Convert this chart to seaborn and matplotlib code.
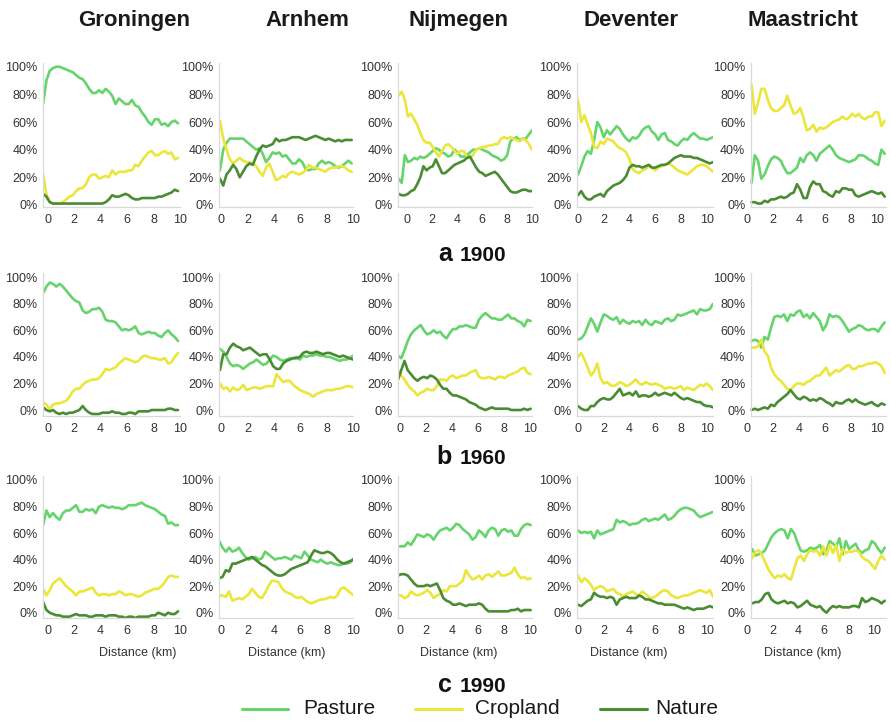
import numpy as np
import pandas as pd
import matplotlib
matplotlib.use("Agg")
import matplotlib.pyplot as plt
from matplotlib.lines import Line2D
import seaborn as sns

# ---------------------------------------------------------------------------
# Land-use shares (%) along transects from the city centre outwards
# ---------------------------------------------------------------------------
cities = ["Groningen", "Arnhem", "Nijmegen", "Deventer", "Maastricht"]
years = ["1900", "1960", "1990"]
panel_letters = ["a", "b", "c"]
land_uses = ["Pasture", "Cropland", "Nature"]

# 1900
groningen_1900_pasture = [73, 90, 97, 99, 100, 100, 99, 98, 97, 96, 94, 92, 91, 88, 84, 81, 81, 83, 81, 84, 82, 79, 73, 77, 75, 73, 73, 76, 72, 71, 67, 64, 60, 58, 62, 62, 58, 59, 57, 60, 61, 59]
groningen_1900_cropland = [22, 8, 2, 1, 1, 1, 2, 4, 6, 7, 10, 12, 12, 15, 20, 22, 22, 19, 20, 21, 20, 25, 22, 24, 24, 24, 25, 25, 29, 28, 32, 35, 38, 39, 36, 36, 38, 39, 37, 38, 33, 34]
groningen_1900_nature = [8, 6, 2, 1, 1, 1, 1, 1, 1, 1, 1, 1, 1, 1, 1, 1, 1, 1, 1, 2, 4, 7, 6, 6, 7, 8, 7, 5, 4, 4, 5, 5, 5, 5, 5, 6, 6, 7, 8, 9, 11, 10]

arnhem_1900_pasture = [25, 40, 45, 48, 48, 48, 48, 48, 46, 44, 42, 40, 41, 37, 31, 34, 38, 37, 38, 35, 36, 33, 30, 30, 33, 31, 26, 25, 26, 26, 30, 32, 30, 31, 30, 28, 27, 28, 30, 32, 30]
arnhem_1900_cropland = [61, 48, 40, 33, 30, 32, 34, 32, 31, 31, 30, 28, 24, 21, 27, 30, 24, 18, 19, 21, 20, 23, 24, 23, 22, 23, 25, 29, 27, 27, 26, 25, 24, 26, 27, 27, 28, 28, 27, 25, 24]
arnhem_1900_nature = [19, 14, 22, 25, 29, 26, 20, 24, 28, 30, 29, 35, 40, 43, 42, 43, 44, 48, 46, 47, 47, 48, 49, 49, 49, 48, 47, 48, 49, 50, 49, 48, 47, 48, 47, 46, 47, 46, 47, 47, 47]

nijmegen_1900_pasture = [19, 16, 36, 31, 32, 34, 33, 35, 34, 35, 37, 39, 41, 40, 38, 37, 35, 36, 40, 38, 35, 35, 36, 38, 40, 40, 41, 40, 39, 38, 36, 35, 34, 32, 33, 36, 46, 48, 49, 47, 48, 48, 51, 54]
nijmegen_1900_cropland = [79, 82, 76, 64, 66, 62, 58, 52, 47, 45, 45, 42, 38, 35, 39, 43, 44, 42, 39, 37, 39, 39, 35, 34, 36, 40, 41, 42, 42, 43, 43, 44, 44, 48, 49, 48, 49, 48, 47, 46, 48, 47, 44, 40]
nijmegen_1900_nature = [8, 7, 7, 8, 10, 11, 15, 20, 28, 25, 27, 28, 33, 28, 23, 23, 25, 27, 29, 30, 31, 32, 34, 35, 31, 27, 24, 23, 21, 22, 23, 24, 22, 19, 16, 13, 10, 9, 9, 10, 11, 11, 10, 10]

deventer_1900_pasture = [22, 28, 35, 39, 37, 47, 60, 56, 49, 54, 51, 54, 57, 55, 51, 48, 46, 49, 48, 50, 54, 56, 57, 53, 51, 47, 51, 52, 47, 46, 44, 43, 46, 48, 47, 50, 52, 50, 48, 48, 47, 48, 49]
deventer_1900_cropland = [76, 60, 65, 58, 52, 42, 41, 46, 44, 48, 47, 46, 43, 41, 40, 38, 33, 26, 24, 23, 25, 26, 28, 27, 25, 27, 28, 29, 30, 29, 27, 25, 24, 23, 22, 24, 26, 28, 29, 29, 28, 26, 24]
deventer_1900_nature = [7, 10, 6, 4, 4, 6, 7, 8, 6, 10, 12, 14, 15, 16, 18, 21, 27, 29, 28, 28, 27, 28, 29, 27, 27, 28, 29, 29, 30, 32, 34, 35, 36, 35, 35, 35, 34, 34, 33, 32, 31, 30, 31]

maastricht_1900_pasture = [16, 36, 32, 19, 22, 28, 33, 35, 34, 32, 27, 23, 23, 25, 27, 34, 31, 36, 38, 36, 32, 37, 39, 41, 43, 40, 36, 34, 33, 32, 31, 32, 33, 36, 36, 35, 33, 32, 30, 29, 40, 37]
maastricht_1900_cropland = [87, 66, 74, 84, 84, 76, 70, 68, 68, 70, 72, 79, 72, 66, 67, 70, 63, 54, 55, 58, 53, 56, 55, 56, 58, 60, 61, 62, 64, 62, 63, 66, 64, 66, 63, 62, 64, 64, 67, 67, 57, 61]
maastricht_1900_nature = [2, 2, 1, 1, 3, 2, 4, 4, 5, 6, 5, 6, 8, 9, 15, 11, 5, 5, 13, 17, 15, 15, 10, 9, 7, 6, 10, 9, 12, 12, 11, 11, 7, 6, 7, 8, 9, 10, 9, 8, 9, 6]

# 1960
groningen_1960_pasture = [88, 93, 96, 95, 93, 95, 93, 90, 87, 84, 82, 81, 75, 73, 74, 76, 76, 77, 74, 68, 67, 67, 66, 63, 60, 61, 60, 61, 63, 58, 57, 58, 59, 58, 58, 56, 55, 58, 60, 57, 55, 52]
groningen_1960_cropland = [6, 4, 1, 4, 5, 5, 6, 7, 10, 14, 16, 16, 19, 21, 22, 23, 23, 24, 27, 31, 30, 31, 32, 35, 37, 39, 38, 37, 36, 37, 40, 41, 40, 39, 39, 38, 38, 39, 35, 36, 40, 43]
groningen_1960_nature = [2, 0, -1, 0, -2, -3, -2, -3, -2, -2, -1, 0, 3, 0, -2, -3, -3, -3, -2, -2, -2, -1, -2, -2, -3, -3, -2, -2, -3, -1, -1, -1, -1, 0, 0, 0, 0, 0, 1, 1, 0, 0]

arnhem_1960_pasture = [46, 44, 40, 35, 33, 34, 33, 31, 33, 35, 36, 38, 36, 34, 35, 38, 41, 40, 38, 37, 38, 39, 39, 40, 38, 41, 40, 41, 41, 42, 41, 41, 40, 40, 39, 38, 37, 38, 38, 39, 41]
arnhem_1960_cropland = [20, 16, 17, 14, 17, 15, 16, 19, 15, 16, 17, 17, 16, 17, 18, 18, 18, 27, 24, 21, 22, 22, 19, 17, 15, 14, 13, 12, 10, 12, 13, 14, 15, 15, 15, 16, 16, 17, 18, 18, 17]
arnhem_1960_nature = [30, 42, 42, 47, 50, 48, 47, 45, 46, 47, 45, 43, 41, 42, 42, 38, 33, 31, 31, 35, 37, 38, 39, 39, 40, 43, 44, 43, 43, 44, 43, 42, 43, 43, 42, 41, 40, 41, 40, 39, 38]

nijmegen_1960_pasture = [41, 39, 45, 52, 57, 60, 62, 64, 60, 57, 58, 60, 58, 59, 56, 54, 58, 61, 61, 63, 63, 64, 63, 62, 62, 68, 71, 73, 71, 69, 69, 68, 68, 70, 72, 69, 69, 67, 66, 63, 68, 67]
nijmegen_1960_cropland = [30, 26, 23, 19, 16, 14, 11, 13, 14, 16, 15, 15, 18, 23, 23, 22, 25, 26, 24, 25, 26, 26, 28, 29, 30, 25, 24, 24, 25, 24, 23, 25, 25, 24, 26, 27, 28, 29, 31, 32, 28, 27]
nijmegen_1960_nature = [23, 30, 37, 30, 27, 24, 22, 24, 25, 24, 26, 25, 23, 19, 16, 16, 13, 11, 11, 10, 9, 8, 6, 5, 4, 2, 1, 0, 1, 2, 1, 1, 1, 1, 1, 0, 0, 0, 0, 1, 0, 1]

deventer_1960_pasture = [53, 54, 57, 63, 69, 65, 59, 66, 72, 71, 69, 68, 70, 65, 68, 66, 65, 67, 66, 67, 64, 68, 65, 64, 67, 66, 65, 68, 69, 67, 68, 72, 71, 72, 73, 74, 75, 72, 76, 75, 75, 76, 80]
deventer_1960_cropland = [40, 43, 38, 32, 26, 29, 35, 24, 20, 21, 19, 18, 19, 21, 20, 18, 19, 21, 23, 20, 19, 21, 20, 19, 20, 19, 18, 16, 17, 17, 16, 17, 18, 15, 17, 16, 15, 17, 19, 18, 20, 18, 15]
deventer_1960_nature = [3, 1, 0, 0, 3, 3, 6, 8, 9, 8, 8, 10, 13, 16, 11, 12, 13, 11, 14, 10, 11, 11, 10, 11, 13, 11, 12, 13, 12, 11, 13, 11, 9, 8, 9, 8, 7, 6, 6, 4, 3, 3, 2]

maastricht_1960_pasture = [52, 53, 52, 47, 55, 53, 62, 70, 71, 70, 72, 67, 72, 71, 74, 75, 70, 72, 69, 73, 70, 67, 60, 64, 72, 70, 71, 70, 67, 63, 59, 61, 62, 64, 63, 61, 60, 61, 61, 59, 63, 66]
maastricht_1960_cropland = [47, 47, 48, 53, 44, 41, 32, 27, 24, 22, 19, 16, 15, 18, 20, 20, 19, 21, 22, 24, 26, 26, 29, 32, 26, 28, 30, 29, 31, 33, 34, 31, 31, 33, 33, 34, 35, 35, 36, 35, 33, 28]
maastricht_1960_nature = [0, 1, 0, 1, 2, 1, 4, 3, 6, 8, 10, 12, 15, 12, 9, 8, 10, 9, 7, 8, 7, 9, 8, 6, 5, 3, 6, 5, 5, 7, 8, 6, 8, 6, 5, 4, 5, 6, 4, 3, 5, 4]

# 1990
groningen_1990_pasture = [66, 77, 72, 75, 72, 70, 75, 77, 77, 79, 81, 76, 76, 78, 77, 78, 75, 80, 81, 80, 79, 80, 79, 79, 78, 79, 81, 81, 81, 82, 83, 81, 80, 79, 78, 76, 74, 73, 67, 68, 66, 66]
groningen_1990_cropland = [18, 13, 17, 22, 24, 26, 23, 20, 18, 16, 13, 16, 16, 17, 18, 19, 15, 13, 14, 14, 13, 14, 14, 16, 15, 13, 14, 14, 13, 12, 13, 15, 16, 17, 18, 18, 20, 23, 27, 28, 27, 27]
groningen_1990_nature = [8, 2, 0, -1, -2, -2, -3, -3, -3, -2, -1, -2, -2, -2, -3, -3, -2, -2, -2, -3, -2, -2, -2, -3, -3, -4, -3, -3, -4, -3, -3, -3, -3, -2, -2, 0, -1, -2, 0, -1, -1, 1]

arnhem_1990_pasture = [54, 49, 46, 49, 46, 47, 49, 45, 42, 40, 41, 42, 40, 41, 46, 44, 42, 40, 41, 41, 42, 41, 40, 43, 42, 41, 46, 43, 40, 39, 38, 40, 38, 37, 38, 37, 36, 36, 37, 37, 38, 41]
arnhem_1990_cropland = [13, 13, 12, 16, 9, 10, 11, 10, 12, 14, 18, 15, 12, 11, 15, 20, 24, 24, 23, 19, 16, 15, 14, 12, 11, 12, 10, 8, 7, 8, 9, 10, 10, 11, 12, 11, 13, 18, 19, 17, 15, 13]
arnhem_1990_nature = [26, 27, 32, 31, 37, 37, 38, 39, 40, 41, 42, 40, 38, 36, 35, 33, 31, 29, 28, 28, 29, 31, 33, 34, 35, 36, 37, 38, 43, 47, 46, 45, 45, 46, 45, 43, 40, 38, 37, 38, 39, 40]

nijmegen_1990_pasture = [50, 50, 50, 53, 51, 55, 59, 58, 57, 59, 58, 55, 59, 62, 63, 64, 62, 64, 67, 66, 63, 61, 59, 55, 57, 62, 60, 57, 62, 64, 63, 58, 62, 63, 61, 62, 58, 58, 63, 66, 67, 66]
nijmegen_1990_cropland = [13, 13, 11, 12, 16, 14, 13, 14, 15, 17, 15, 11, 13, 14, 17, 16, 20, 20, 20, 22, 24, 32, 28, 25, 26, 28, 25, 28, 29, 27, 29, 31, 28, 28, 29, 30, 34, 29, 26, 27, 25, 26]
nijmegen_1990_nature = [28, 29, 29, 28, 25, 22, 20, 20, 20, 21, 20, 21, 22, 17, 11, 9, 8, 6, 6, 7, 6, 5, 6, 6, 6, 7, 6, 3, 1, 1, 1, 1, 1, 1, 1, 2, 2, 3, 1, 2, 2, 2]

deventer_1990_pasture = [62, 60, 61, 60, 61, 56, 62, 59, 60, 61, 62, 63, 70, 68, 69, 68, 66, 67, 67, 68, 70, 71, 69, 70, 71, 70, 72, 74, 70, 71, 73, 76, 78, 79, 79, 78, 77, 74, 72, 73, 74, 75, 76]
deventer_1990_cropland = [28, 23, 26, 24, 21, 17, 19, 20, 19, 16, 17, 18, 15, 14, 12, 14, 15, 16, 14, 13, 16, 14, 12, 11, 12, 14, 16, 17, 16, 13, 12, 11, 12, 13, 13, 14, 15, 16, 17, 16, 15, 17, 12]
deventer_1990_nature = [6, 5, 7, 9, 10, 15, 13, 12, 12, 11, 12, 11, 6, 10, 11, 12, 11, 11, 11, 13, 12, 10, 10, 9, 8, 7, 7, 6, 6, 6, 6, 5, 4, 3, 4, 3, 2, 3, 3, 3, 4, 5, 4]

maastricht_1990_pasture = [48, 43, 44, 45, 47, 52, 57, 60, 62, 63, 62, 56, 63, 60, 53, 47, 46, 47, 49, 48, 49, 51, 44, 47, 54, 52, 50, 56, 44, 54, 48, 50, 52, 47, 45, 47, 48, 54, 52, 48, 45, 49]
maastricht_1990_cropland = [41, 46, 47, 44, 38, 33, 29, 26, 28, 27, 29, 26, 25, 33, 41, 43, 39, 44, 47, 46, 47, 43, 50, 43, 51, 45, 51, 39, 48, 45, 46, 46, 47, 46, 42, 40, 39, 36, 33, 39, 43, 40]
maastricht_1990_nature = [7, 8, 8, 10, 14, 15, 10, 8, 7, 8, 9, 7, 8, 7, 4, 5, 7, 9, 6, 5, 4, 5, 2, 0, 3, 5, 4, 5, 4, 4, 4, 5, 5, 4, 11, 8, 9, 11, 10, 9, 7, 9]

# first and last distance (km) sampled on each transect
distance_span = {
    ("1900", "Groningen"): (-0.35, 9.85), ("1900", "Arnhem"): (-0.1, 9.9),
    ("1900", "Nijmegen"): (-0.7, 10.0), ("1900", "Deventer"): (0.0, 10.5),
    ("1900", "Maastricht"): (0.35, 10.6),
    ("1960", "Groningen"): (-0.35, 9.85), ("1960", "Arnhem"): (-0.1, 10.0),
    ("1960", "Nijmegen"): (-0.15, 10.05), ("1960", "Deventer"): (0.0, 10.5),
    ("1960", "Maastricht"): (0.35, 10.6),
    ("1990", "Groningen"): (-0.35, 9.85), ("1990", "Arnhem"): (-0.15, 10.05),
    ("1990", "Nijmegen"): (-0.15, 10.05), ("1990", "Deventer"): (0.0, 10.5),
    ("1990", "Maastricht"): (0.4, 10.8),
}

series = {}
for _name, _vals in list(globals().items()):
    if _name.count("_") == 2 and _name.split("_")[1] in years:
        _city, _year, _use = _name.split("_")
        series[(_year, _city.capitalize(), _use.capitalize())] = _vals

records = []
for (year, city, use), vals in series.items():
    d0, d1 = distance_span[(year, city)]
    dist = np.linspace(d0, d1, len(vals))
    for d, v in zip(dist, vals):
        records.append({"year": year, "city": city, "land_use": use,
                        "distance": d, "share": v})
df = pd.DataFrame(records)

palette = {"Pasture": "#66d46c", "Cropland": "#ebe63a", "Nature": "#4a8c33"}

# ---------------------------------------------------------------------------
# Figure layout (pixel geometry of an 891 x 724 canvas)
# ---------------------------------------------------------------------------
sns.set_theme(style="white")
plt.rcParams["font.family"] = ["Liberation Sans", "DejaVu Sans"]

FW, FH = 891, 724
fig = plt.figure(figsize=(FW / 100, FH / 100), dpi=100)
fig.patch.set_facecolor("white")

col_box = {"Groningen": (43, 137), "Arnhem": (219, 134), "Nijmegen": (398, 134),
           "Deventer": (577, 136), "Maastricht": (747, 139)}
row_box = {"1900": (63, 207), "1960": (273, 416), "1990": (476, 618)}
row_ylim = {"1900": (-1.5, 102.7), "1960": (-4.5, 103.2), "1990": (-4.0, 103.0)}

xlims = {
    ("1900", "Groningen"): (-0.36, 10.0), ("1900", "Arnhem"): (-0.17, 10.0),
    ("1900", "Nijmegen"): (-0.75, 10.0), ("1900", "Deventer"): (-0.08, 10.5),
    ("1900", "Maastricht"): (0.0, 10.7),
    ("1960", "Groningen"): (-0.36, 10.0), ("1960", "Arnhem"): (-0.17, 10.0),
    ("1960", "Nijmegen"): (-0.15, 10.15), ("1960", "Deventer"): (-0.08, 10.5),
    ("1960", "Maastricht"): (0.0, 10.7),
    ("1990", "Groningen"): (-0.36, 10.0), ("1990", "Arnhem"): (-0.17, 10.0),
    ("1990", "Nijmegen"): (-0.15, 10.15), ("1990", "Deventer"): (-0.08, 10.5),
    ("1990", "Maastricht"): (0.0, 10.9),
}

xlabel_center = {"Groningen": 138, "Arnhem": 287, "Nijmegen": 459,
                 "Deventer": 629, "Maastricht": 803}
title_center = {"Groningen": 134, "Arnhem": 307, "Nijmegen": 458,
                "Deventer": 631, "Maastricht": 803}

spine_col = "#d9d9d9"
text_col = "#333333"

for year in years:
    top, bottom = row_box[year]
    for city in cities:
        left, width = col_box[city]
        ax = fig.add_axes([left / FW, 1 - bottom / FH, width / FW, (bottom - top) / FH])
        sub = df[(df.year == year) & (df.city == city)]
        sns.lineplot(data=sub, x="distance", y="share", hue="land_use",
                     hue_order=land_uses, palette=palette, estimator=None,
                     sort=False, legend=False, linewidth=1.9, ax=ax)
        x0, x1 = xlims[(year, city)]
        ax.set_xlim(x0, x1)
        ax.set_ylim(*row_ylim[year])
        ax.set_xticks(range(0, 11, 2))
        ax.set_yticks(range(0, 101, 20))
        ax.set_yticklabels([f"{v}%" for v in range(0, 101, 20)])
        ax.set_ylabel("")
        ax.set_xlabel("")
        ax.set_facecolor("white")
        for s in ("top", "right"):
            ax.spines[s].set_visible(False)
        for s in ("left", "bottom"):
            ax.spines[s].set_color(spine_col)
            ax.spines[s].set_linewidth(0.9)
        if city == "Maastricht":
            ax.spines["left"].set_position(("data", 0.3))
            ax.spines["bottom"].set_bounds(0.3, x1)
        ax.tick_params(axis="both", which="both", length=2.5, width=0.8,
                       color=spine_col, labelsize=9, labelcolor=text_col)
        ax.tick_params(axis="x", pad=2.5)
        ax.tick_params(axis="y", pad=1.5)
        if year == "1990":
            ax.set_xlabel("Distance (km)", fontsize=9, color=text_col)
            ax.xaxis.set_label_coords((xlabel_center[city] - left) / width, -0.205)
            ax.xaxis.label.set_va("top")

# column titles
for city in cities:
    fig.text(title_center[city] / FW, 1 - 26 / FH, city, ha="center",
             va="baseline", fontsize=16, fontweight="bold", color="#1a1a1a")

# panel captions
caption_baseline = {"1900": 261, "1960": 464, "1990": 692}
for letter, year in zip(panel_letters, years):
    yb = 1 - caption_baseline[year] / FH
    fig.text(452 / FW, yb, letter, ha="right", va="baseline", fontsize=18,
             fontweight="bold", color="#111111")
    fig.text(460 / FW, yb, year, ha="left", va="baseline", fontsize=15,
             fontweight="bold", color="#111111")

# legend along the bottom
legend_items = [("Pasture", 242, 288, 303), ("Cropland", 415, 462, 475),
                ("Nature", 600, 647, 655)]
ly = 1 - 709 / FH
for use, xa, xb, xt in legend_items:
    fig.add_artist(Line2D([xa / FW, xb / FW], [ly, ly], transform=fig.transFigure,
                          color=palette[use], linewidth=2.2))
    fig.text(xt / FW, ly, use, ha="left", va="center", fontsize=15, color="#1a1a1a")

fig.savefig("out.png", dpi=100, facecolor="white")
